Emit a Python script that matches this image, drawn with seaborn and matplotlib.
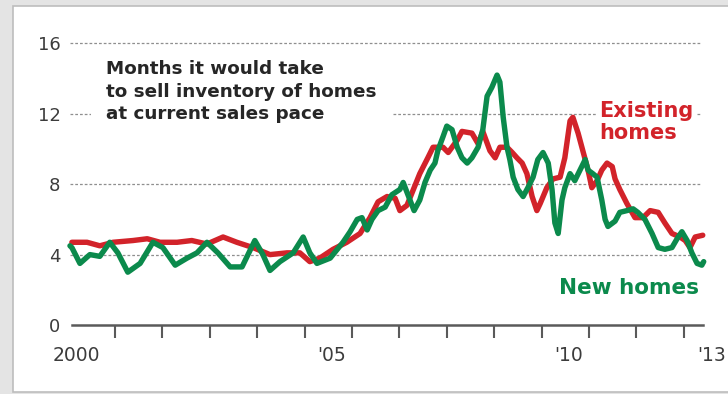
import matplotlib
matplotlib.use("Agg")
import matplotlib.pyplot as plt
import seaborn as sns
import pandas as pd
from matplotlib.patches import Rectangle

# Months' supply of homes for sale, 2000 - spring 2013 (decimal years)
new_years = [2000.05, 2000.09, 2000.26, 2000.47, 2000.68, 2000.89, 2001.06, 2001.27, 2001.53, 2001.80,
             2002.01, 2002.27, 2002.52, 2002.73, 2002.94, 2003.17, 2003.43, 2003.68, 2003.95, 2004.12,
             2004.27, 2004.48, 2004.76, 2004.97, 2005.11, 2005.26, 2005.54, 2005.81, 2005.96, 2006.11,
             2006.21, 2006.32, 2006.42, 2006.55, 2006.70, 2006.84, 2007.01, 2007.08, 2007.18, 2007.31,
             2007.43, 2007.54, 2007.65, 2007.75, 2007.81, 2007.92, 2008.00, 2008.11, 2008.22, 2008.32,
             2008.43, 2008.53, 2008.66, 2008.76, 2008.85, 2008.95, 2009.06, 2009.12, 2009.19, 2009.27,
             2009.33, 2009.40, 2009.50, 2009.61, 2009.71, 2009.82, 2009.92, 2010.03, 2010.14, 2010.22,
             2010.28, 2010.35, 2010.43, 2010.49, 2010.60, 2010.70, 2010.81, 2010.92, 2010.98, 2011.08,
             2011.17, 2011.27, 2011.34, 2011.40, 2011.55, 2011.65, 2011.80, 2011.93, 2012.03, 2012.18,
             2012.33, 2012.46, 2012.60, 2012.75, 2012.88, 2012.96, 2013.07, 2013.17, 2013.28, 2013.38,
             2013.42]
new_supply = [4.5, 4.4, 3.5, 4.0, 3.9, 4.7, 4.1, 3.0, 3.5, 4.7,
              4.4, 3.4, 3.8, 4.1, 4.7, 4.1, 3.3, 3.3, 4.8, 4.0,
              3.1, 3.6, 4.1, 5.0, 4.1, 3.5, 3.8, 4.7, 5.3, 6.0,
              6.1, 5.4, 6.0, 6.5, 6.7, 7.4, 7.7, 8.1, 7.4, 6.5,
              7.1, 8.1, 8.8, 9.2, 9.9, 10.7, 11.3, 11.1, 10.1, 9.5,
              9.2, 9.5, 10.1, 11.1, 13.0, 13.5, 14.2, 13.8, 11.8, 10.1,
              9.4, 8.4, 7.7, 7.3, 7.8, 8.4, 9.4, 9.8, 9.2, 7.7,
              5.8, 5.2, 7.1, 7.8, 8.6, 8.2, 8.8, 9.4, 8.8, 8.6,
              8.4, 7.1, 6.0, 5.6, 5.9, 6.4, 6.5, 6.6, 6.4, 6.0,
              5.2, 4.4, 4.3, 4.4, 5.0, 5.3, 4.8, 4.1, 3.5, 3.4,
              3.6]

existing_years = [2000.09, 2000.41, 2000.68, 2000.96, 2001.38, 2001.68, 2001.95, 2002.31, 2002.62, 2002.94,
                  2003.28, 2003.57, 2003.91, 2004.27, 2004.63, 2004.90, 2005.11, 2005.32, 2005.60, 2005.89,
                  2006.17, 2006.38, 2006.55, 2006.74, 2006.91, 2007.01, 2007.16, 2007.43, 2007.60, 2007.71,
                  2007.92, 2008.03, 2008.22, 2008.32, 2008.53, 2008.66, 2008.76, 2008.91, 2009.02, 2009.12,
                  2009.27, 2009.38, 2009.48, 2009.59, 2009.69, 2009.80, 2009.90, 2009.97, 2010.11, 2010.24,
                  2010.39, 2010.49, 2010.60, 2010.66, 2010.77, 2010.87, 2010.98, 2011.06, 2011.17, 2011.27,
                  2011.38, 2011.49, 2011.55, 2011.65, 2011.80, 2011.97, 2012.14, 2012.29, 2012.46, 2012.60,
                  2012.75, 2012.92, 2013.03, 2013.13, 2013.24, 2013.40]
existing_supply = [4.7, 4.7, 4.5, 4.7, 4.8, 4.9, 4.7, 4.7, 4.8, 4.6,
                   5.0, 4.7, 4.4, 4.0, 4.1, 4.1, 3.6, 3.8, 4.3, 4.7,
                   5.2, 6.1, 7.0, 7.3, 7.2, 6.5, 6.8, 8.6, 9.5, 10.1,
                   10.1, 9.8, 10.5, 11.0, 10.9, 10.3, 11.0, 9.9, 9.5, 10.1,
                   10.1, 9.8, 9.5, 9.2, 8.6, 7.3, 6.5, 6.9, 7.8, 8.3,
                   8.4, 9.5, 11.6, 11.8, 10.9, 9.9, 8.8, 7.8, 8.2, 8.8,
                   9.2, 9.0, 8.3, 7.7, 6.9, 6.1, 6.1, 6.5, 6.4, 5.8,
                   5.2, 5.0, 4.8, 4.4, 5.0, 5.1]

y_ticks = [0, 4, 8, 12, 16]
year_ticks = list(range(2001, 2014))
year_label_pos = [2000.18, 2005.58, 2010.58, 2013.58]
year_labels = ["2000", "'05", "'10", "'13"]

RED = "#d2232a"
GREEN = "#0b8a4c"
INK = "#3c3c3c"
AXIS = "#5a5a5a"

sns.set_theme(style="white")
plt.rcParams["font.family"] = ["DejaVu Sans"]
plt.rcParams.update({
    "xtick.bottom": True,
    "xtick.direction": "out",
    "xtick.major.size": 9,
    "xtick.major.width": 1.5,
    "xtick.minor.size": 0,
    "xtick.color": AXIS,
    "ytick.left": False,
})

fig = plt.figure(figsize=(7.28, 3.94), dpi=100, facecolor="#e4e4e4")
# white panel with a thin grey frame
fig.patches.append(Rectangle((13 / 728, 2 / 394), 1.0, 1 - 8 / 394,
                             transform=fig.transFigure, facecolor="white",
                             edgecolor="#bdbdbd", linewidth=1.2, zorder=-10))

ax = fig.add_axes([43.9 / 728, 69 / 394, 14.4 * 47.4 / 728, 16.3 * 17.6 / 394])
ax.set_zorder(5)
ax.set_facecolor("none")

frames = pd.concat([
    pd.DataFrame({"year": existing_years, "supply": existing_supply, "kind": "Existing homes"}),
    pd.DataFrame({"year": new_years, "supply": new_supply, "kind": "New homes"}),
])
sns.lineplot(data=frames, x="year", y="supply", hue="kind", sort=False,
             palette={"Existing homes": RED, "New homes": GREEN},
             linewidth=3.9, legend=False, ax=ax, zorder=3,
             solid_joinstyle="round", solid_capstyle="round")

ax.set_xlim(1999.5, 2013.9)
ax.set_ylim(0, 16.3)

# dotted reference lines
ax.hlines(y_ticks[1:], 2000.05, 2013.35, colors="#8f8f8f", linewidth=0.9,
          linestyles=(0, (2.2, 1.6)), zorder=1)

for side in ["top", "right", "left"]:
    ax.spines[side].set_visible(False)
ax.spines["bottom"].set_bounds(2000.09, 2013.4)
ax.spines["bottom"].set_color(AXIS)
ax.spines["bottom"].set_linewidth(1.8)

ax.set_yticks(y_ticks)
ax.set_yticklabels([str(v) for v in y_ticks])
ax.tick_params(axis="y", length=0, pad=-12, labelsize=13, labelcolor=INK)
for lab in ax.get_yticklabels():
    lab.set_horizontalalignment("right")

ax.set_xticks(year_ticks)
ax.set_xticklabels([""] * len(year_ticks))
ax.set_xticks(year_label_pos, minor=True)
ax.set_xticklabels(year_labels, minor=True)
ax.xaxis.set_tick_params(which="major", bottom=True, length=9, width=1.5,
                         direction="out", color=AXIS)
ax.xaxis.set_tick_params(which="minor", bottom=True, length=0, pad=15,
                         labelsize=13.5, labelcolor=INK)
ax.set_xlabel("")
ax.set_ylabel("")
ax.grid(False)

ax.text(2000.82, 15.05, "Months it would take\nto sell inventory of homes\nat current sales pace",
        fontsize=13.2, fontweight="bold", color="#262626", va="top", ha="left",
        linespacing=1.33, zorder=2,
        bbox=dict(facecolor="white", edgecolor="none", pad=11))
ax.text(2011.22, 12.7, "Existing\nhomes", fontsize=15, fontweight="bold", color=RED,
        va="top", ha="left", linespacing=1.12, zorder=2,
        bbox=dict(facecolor="white", edgecolor="none", pad=2))
ax.text(2013.33, 1.78, "New homes", fontsize=15.5, fontweight="bold", color=GREEN,
        va="baseline", ha="right", zorder=2)

fig.savefig("out.png", dpi=100, facecolor=fig.get_facecolor())
